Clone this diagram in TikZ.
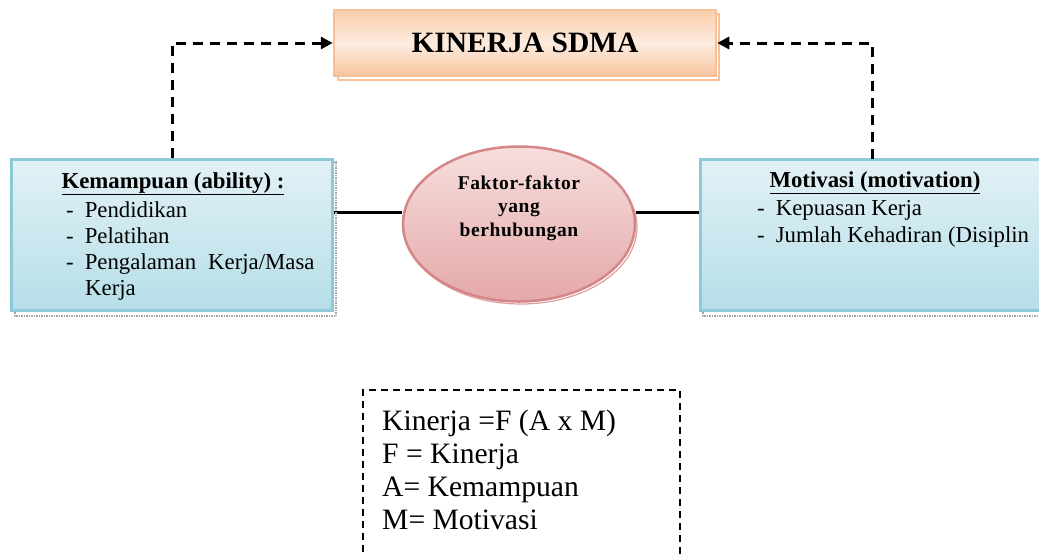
\documentclass[tikz,border=0pt]{standalone}
\usepackage{fontspec}
\setmainfont{Liberation Serif}
\usetikzlibrary{arrows.meta,shapes.geometric,backgrounds}
\definecolor{orBorder}{RGB}{247,192,150}
\definecolor{orTop}{RGB}{249,205,170}
\definecolor{orMid}{RGB}{253,236,224}
\definecolor{orBot}{RGB}{247,196,158}
\definecolor{blBorder}{RGB}{140,202,218}
\definecolor{blTop}{RGB}{226,241,246}
\definecolor{blBot}{RGB}{182,222,232}
\definecolor{pkBorder}{RGB}{214,134,134}
\definecolor{pkTop}{RGB}{247,222,222}
\definecolor{pkBot}{RGB}{228,168,168}
\tikzset{
  kinbox/.style={draw=orBorder, line width=2.5pt, top color=orTop, bottom color=orBot, middle color=orMid, minimum width=382, minimum height=66, inner sep=0, font=\fontsize{29.5}{33}\selectfont\bfseries},
  bluebox/.style={draw=blBorder, line width=3pt, top color=blTop, bottom color=blBot, minimum height=151, inner sep=0},
  shadowbox/.style={draw=black!35, line width=1.5pt, densely dotted},
  faktor/.style={ellipse, draw=pkBorder, line width=2.5pt, top color=pkTop, bottom color=pkBot, minimum width=232, minimum height=155, inner sep=0},
  conn/.style={line width=3pt},
  dasharrow/.style={line width=3pt, dash pattern=on 10pt off 7pt, -{Triangle[length=12pt,width=12pt]}},
  boxtext/.style={anchor=base west, inner sep=0, font=\fontsize{22.8}{25}\selectfont},
  headtext/.style={anchor=base, inner sep=0, font=\fontsize{22.8}{25}\selectfont\bfseries},
  ftext/.style={anchor=base west, inner sep=0, font=\fontsize{29.6}{33}\selectfont},
}
\begin{document}
\begin{tikzpicture}[x=1pt,y=-1pt]
\useasboundingbox (0,0) rectangle (1039,555);
\begin{scope}
\clip (0,0) rectangle (1039,555);
% shadows
\draw[orBorder, line width=1.2pt] (338,14) rectangle (719,80);
\draw[shadowbox] (15,162) rectangle (336,316);
\draw[shadowbox] (703,162) rectangle (1060,316);
\draw[pkBorder!80, line width=1.2pt] (521,227) ellipse (116 and 77);
% nodes
\node[kinbox] (kin) at (525,43) {KINERJA SDMA};
\node[bluebox, minimum width=321] (abil) at (172,235) {};
\node[bluebox, minimum width=370] (mot) at (885,235) {};
\coordinate (mtop) at (872,159);
\node[faktor] (fk) at (519,224) {};
\begin{scope}[on background layer]
\draw[conn] (abil.east |- 0,212) -- (fk.west |- 0,212);
\draw[conn] (fk.east |- 0,212) -- (mot.west |- 0,212);
\end{scope}
% ellipse text
\node[align=center, inner sep=0, font=\fontsize{19.5}{23.5}\selectfont\bfseries\addfontfeatures{LetterSpace=3}, anchor=base] (fkt) at (519,236) {Faktor-faktor\\yang\\berhubungan};
% left box text
\node[headtext] (ah) at (173,188) {\underline{Kemampuan (ability) :}};
\node[boxtext] (a1) at (66,217) {-\hspace{11pt}Pendidikan};
\node[boxtext] (a2) at (66,243) {-\hspace{11pt}Pelatihan};
\node[boxtext] (a3) at (66,269) {-\hspace{11pt}Pengalaman\hspace{12pt}Kerja/Masa};
\node[boxtext] (a4) at (85,295) {Kerja};
% right box text
\node[headtext] (mh) at (875,187) {\underline{Motivasi (motivation)}};
\node[boxtext] (m1) at (757,215) {-\hspace{11pt}Kepuasan Kerja};
\node[boxtext] (m2) at (757,242) {-\hspace{11pt}Jumlah Kehadiran (Disiplin};
% dashed arrows
\draw[dasharrow] (abil.north) |- (kin.west);
\draw[dasharrow] (mtop) |- (kin.east);
% formula box
\draw[line width=1.3pt, dash pattern=on 7pt off 5pt] (363,600) -- (363,390) -- (680,390) -- (680,600);
\node[ftext] (f1) at (382,430) {Kinerja =F (A x M)};
\node[ftext] (f2) at (382,463) {F = Kinerja};
\node[ftext] (f3) at (382,496) {A= Kemampuan};
\node[ftext] (f4) at (382,529) {M= Motivasi};
\end{scope}
\end{tikzpicture}
\end{document}
